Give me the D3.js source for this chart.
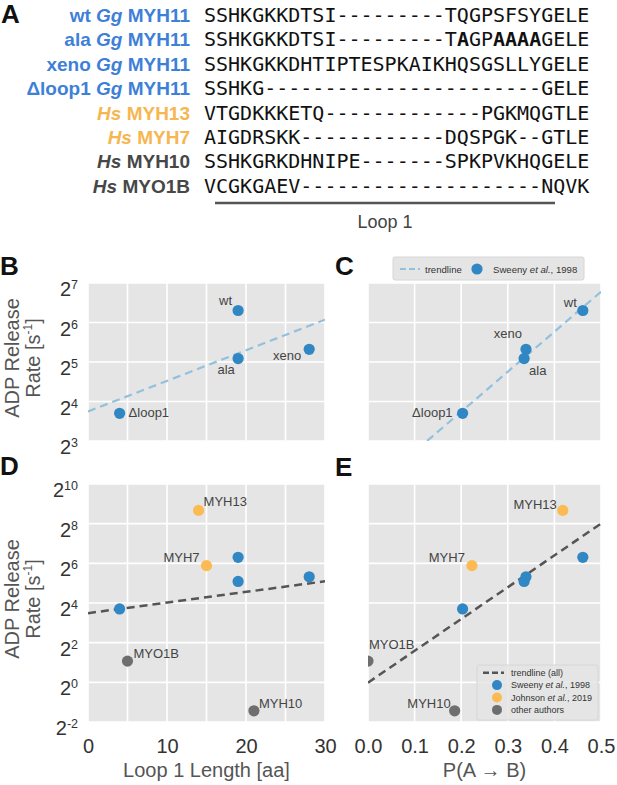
<!DOCTYPE html>
<html>
<head>
<meta charset="utf-8">
<script src="https://cdn.jsdelivr.net/npm/d3@7"></script>
<style>
    body { margin: 0; background: #fff; }
    text { font-family: "Liberation Sans", Arial, sans-serif; }
    .seq { font-family: "DejaVu Sans Mono", monospace; }
</style>
</head>
<body>
<svg id="fig"></svg>
<script>
// ---------- data ----------
const alignNames = ['wt', 'ala', 'xeno', 'Δloop1', '', '', '', '']
const alignSpecies = ['Gg', 'Gg', 'Gg', 'Gg', 'Hs', 'Hs', 'Hs', 'Hs']
const alignGenes = ['MYH11', 'MYH11', 'MYH11', 'MYH11', 'MYH13', 'MYH7', 'MYH10', 'MYO1B']
const alignGroups = ['sweeny', 'sweeny', 'sweeny', 'sweeny', 'johnson', 'johnson', 'other', 'other']
const alignSeqs = [
    'SSHKGKKDTSI---------TQGPSFSYGELE',
    'SSHKGKKDTSI---------TAGPAAAAGELE',
    'SSHKGKKDHTIPTESPKAIKHQSGSLLYGELE',
    'SSHKG-----------------------GELE',
    'VTGDKKKETQ-------------PGKMQGTLE',
    'AIGDRSKK------------DQSPGK--GTLE',
    'SSHKGRKDHNIPE-------SPKPVKHQGELE',
    'VCGKGAEV--------------------NQVK',
]
const alaBoldIdx = [21, 24, 25, 26, 27]

const sweenyNames = ['wt', 'ala', 'xeno', 'Δloop1']
const sweenyLoopLen = [19, 19, 28, 4]
const sweenyPAB = [0.461, 0.335, 0.339, 0.203]
const sweenyRate = [79, 34, 40, 13]

const johnsonNames = ['MYH13', 'MYH7']
const johnsonLoopLen = [14, 15]
const johnsonPAB = [0.418, 0.223]
const johnsonRate = [407, 59]

const otherNames = ['MYO1B', 'MYH10']
const otherLoopLen = [5, 21]
const otherPAB = [0.0, 0.186]
const otherRate = [2.1, 0.37]

const lenTicks = [0, 10, 20, 30]
const pabTicks = [0.0, 0.1, 0.2, 0.3, 0.4, 0.5]
const expTicksTop = [3, 4, 5, 6, 7]
const expTicksBottom = [-2, 0, 2, 4, 6, 8, 10]

// ---------- style ----------
const col = { sweeny: '#3087c4', johnson: '#fbbb52', other: '#6e6e6e' }
const textCol = { sweeny: '#3e7fd8', johnson: '#f6b650', other: '#474747' }
const bgCol = '#e5e5e5'

const W = 617, H = 785
const svg = d3.select('#fig').attr('width', W).attr('height', H)

const panelLetter = (t, x, y) => svg.append('text')
    .attr('x', x).attr('y', y)
    .attr('font-size', 26).attr('font-weight', 'bold').attr('fill', '#111')
    .text(t)

// ---------- panel A ----------
panelLetter('A', 1, 23)
const rowY = d3.scaleLinear().domain([0, 1]).range([22, 46.4])

const rows = svg.append('g')
alignGenes.forEach((gene, i) => {
    const lab = rows.append('text')
        .attr('x', 190).attr('y', rowY(i))
        .attr('text-anchor', 'end')
        .attr('font-size', 19).attr('font-weight', 'bold')
        .attr('fill', textCol[alignGroups[i]])
    if (alignNames[i]) lab.append('tspan').text(alignNames[i] + ' ')
    lab.append('tspan').attr('font-style', 'italic').text(alignSpecies[i])
    lab.append('tspan').text(' ' + gene)

    const seq = rows.append('text')
        .attr('class', 'seq')
        .attr('x', 204).attr('y', rowY(i))
        .attr('font-size', 20).attr('fill', '#111')
    const bold = i === 1 ? alaBoldIdx : []
    // split into runs of bold / normal
    let runs = []
    alignSeqs[i].split('').forEach((c, k) => {
        const b = bold.includes(k)
        if (runs.length && runs[runs.length - 1].b === b) runs[runs.length - 1].t += c
        else runs.push({ t: c, b })
    })
    seq.selectAll('tspan').data(runs).join('tspan')
        .attr('font-weight', d => d.b ? 'bold' : 'normal')
        .text(d => d.t)
})

svg.append('line')
    .attr('x1', 215).attr('x2', 555).attr('y1', 203).attr('y2', 203)
    .attr('stroke', '#555').attr('stroke-width', 2.5)
svg.append('text')
    .attr('x', 385).attr('y', 228).attr('text-anchor', 'middle')
    .attr('font-size', 18).attr('fill', '#444')
    .text('Loop 1')

// ---------- scatter panels ----------
function fit(xs, ys) {
    const mx = d3.mean(xs), my = d3.mean(ys)
    const sxy = d3.sum(xs, (v, i) => (v - mx) * (ys[i] - my))
    const sxx = d3.sum(xs, v => (v - mx) * (v - mx))
    const slope = sxy / sxx
    return { slope, intercept: my - slope * mx }
}

let clipId = 0
function scatterPanel(p) {
    const g = svg.append('g')
    const x = d3.scaleLinear().domain(p.xDomain).range([p.left, p.right])
    const y = d3.scaleLog().base(2)
        .domain([2 ** p.expTicks[0], 2 ** p.expTicks[p.expTicks.length - 1]])
        .range([p.bottom, p.top])

    g.append('rect')
        .attr('x', p.left).attr('y', p.top)
        .attr('width', p.right - p.left).attr('height', p.bottom - p.top)
        .attr('fill', bgCol)

    g.append('g').selectAll('line').data(p.xGrid).join('line')
        .attr('x1', d => x(d)).attr('x2', d => x(d))
        .attr('y1', p.top).attr('y2', p.bottom)
        .attr('stroke', '#fff').attr('stroke-width', 1.6)
    g.append('g').selectAll('line').data(p.expTicks).join('line')
        .attr('x1', p.left).attr('x2', p.right)
        .attr('y1', d => y(2 ** d)).attr('y2', d => y(2 ** d))
        .attr('stroke', '#fff').attr('stroke-width', 1.6)

    const id = 'clip' + (clipId++)
    g.append('clipPath').attr('id', id).append('rect')
        .attr('x', p.left).attr('y', p.top)
        .attr('width', p.right - p.left).attr('height', p.bottom - p.top)
    const inner = g.append('g').attr('clip-path', `url(#${id})`)

    // trendline: least squares in log2 space over every series shown
    const tx = [].concat(...p.series.map(s => s.xs))
    const ty = [].concat(...p.series.map(s => s.rates.map(Math.log2)))
    const f = fit(tx, ty)
    inner.append('path')
        .attr('d', d3.line()
            .x(d => x(d))
            .y(d => y(2 ** (f.intercept + f.slope * d)))(p.xDomain))
        .attr('fill', 'none')
        .attr('stroke', p.trendColor).attr('stroke-width', p.trendWidth)
        .attr('stroke-dasharray', p.trendDash)

    p.series.forEach(s => {
        const pts = s.xs.map((v, i) => ({ x: v, r: s.rates[i], name: s.names[i] }))
        inner.append('g').selectAll('circle').data(pts).join('circle')
            .attr('cx', d => x(d.x)).attr('cy', d => y(d.r))
            .attr('r', 5.6)
            .attr('fill', col[s.group])
        g.append('g').selectAll('text').data(pts.filter(d => p.labelPos[d.name])).join('text')
            .attr('x', d => x(d.x) + p.labelPos[d.name][0])
            .attr('y', d => y(d.r) + p.labelPos[d.name][1])
            .attr('text-anchor', d => p.labelPos[d.name][2])
            .attr('font-size', 13).attr('fill', '#444')
            .text(d => d.name)
    })

    if (p.yLabels) {
        const yl = g.append('g').selectAll('text').data(p.expTicks).join('text')
            .attr('x', p.left - 10)
            .attr('y', d => y(2 ** d) + 13)
            .attr('text-anchor', 'end').attr('fill', '#333')
        yl.append('tspan')
            .attr('font-size', 20)
            .text('2')
        yl.append('tspan')
            .attr('dy', -7)
            .attr('font-size', 12.5)
            .text(d => d < 0 ? '-' + Math.abs(d) : d)

        const ylab = g.append('text')
            .attr('transform', `translate(0, ${(p.top + p.bottom) / 2 - 4}) rotate(-90)`)
            .attr('text-anchor', 'middle').attr('font-size', 20).attr('fill', '#555')
        ylab.append('tspan').attr('x', 0).attr('y', 19).text('ADP Release')
        const l2 = ylab.append('tspan').attr('x', 0).attr('y', 40)
        l2.append('tspan').text('Rate [s')
        l2.append('tspan').attr('font-size', 12).attr('dy', -8).text('-1')
        l2.append('tspan').attr('dy', 8).text(']')
    }

    if (p.xTicks) {
        g.append('g')
            .attr('transform', `translate(0, ${p.bottom})`)
            .call(d3.axisBottom(x).tickValues(p.xTicks).tickFormat(p.xFormat).tickSize(0).tickPadding(0))
            .call(a => a.select('.domain').remove())
            .selectAll('text')
            .attr('dy', null).attr('y', 31)
            .attr('font-size', 20).attr('fill', '#333')
            .attr('font-family', '"Liberation Sans", Arial, sans-serif')
        g.append('text')
            .attr('x', (p.left + p.right) / 2).attr('y', 777)
            .attr('text-anchor', 'middle').attr('font-size', 20).attr('fill', '#555')
            .text(p.xLabel)
    }
    return { x, y }
}

const sweenyLen = { names: sweenyNames, xs: sweenyLoopLen, rates: sweenyRate, group: 'sweeny' }
const sweenyP = { names: sweenyNames, xs: sweenyPAB, rates: sweenyRate, group: 'sweeny' }
const johnsonLen = { names: johnsonNames, xs: johnsonLoopLen, rates: johnsonRate, group: 'johnson' }
const johnsonP = { names: johnsonNames, xs: johnsonPAB, rates: johnsonRate, group: 'johnson' }
const otherLen = { names: otherNames, xs: otherLoopLen, rates: otherRate, group: 'other' }
const otherP = { names: otherNames, xs: otherPAB, rates: otherRate, group: 'other' }

const leftCol = { left: 88, right: 325, xDomain: [0, 30], xGrid: d3.range(0, 31, 5) }
const rightCol = { left: 368, right: 601, xDomain: [0, 0.5], xGrid: pabTicks }
const topRow = { top: 283, bottom: 441, expTicks: expTicksTop, trendColor: '#93c0dd', trendWidth: 2.2, trendDash: '8,5' }
const botRow = { top: 484, bottom: 722, expTicks: expTicksBottom, trendColor: '#555', trendWidth: 2.5, trendDash: '8,5' }

// B
panelLetter('B', 0, 275)
scatterPanel({
    ...leftCol, ...topRow, yLabels: true,
    series: [sweenyLen],
    labelPos: {
        'wt': [-6, -6, 'end'], 'ala': [-12, 15, 'middle'],
        'xeno': [-8, 11, 'end'], 'Δloop1': [9, 4, 'start']
    }
})

// C
panelLetter('C', 335, 275)
scatterPanel({
    ...rightCol, ...topRow,
    series: [sweenyP],
    labelPos: {
        'wt': [-6, -4, 'end'], 'ala': [5, 16, 'start'],
        'xeno': [-4, -11, 'end'], 'Δloop1': [-10, 4, 'end']
    }
})
const legC = svg.append('g')
legC.append('rect').attr('x', 393).attr('y', 257).attr('width', 191).attr('height', 23)
    .attr('fill', bgCol).attr('stroke', '#d6d6d6').attr('rx', 2)
legC.append('line').attr('x1', 400).attr('x2', 420).attr('y1', 269).attr('y2', 269)
    .attr('stroke', '#93c0dd').attr('stroke-width', 2.2).attr('stroke-dasharray', '6,3')
legC.append('text').attr('x', 425).attr('y', 272.5).attr('font-size', 9.6).attr('fill', '#333').text('trendline')
legC.append('circle').attr('cx', 477).attr('cy', 269).attr('r', 5.6).attr('fill', col.sweeny)
const lcT = legC.append('text').attr('x', 493).attr('y', 272.5).attr('font-size', 9.6).attr('fill', '#333')
lcT.append('tspan').text('Sweeny ')
lcT.append('tspan').attr('font-style', 'italic').text('et al.')
lcT.append('tspan').text(', 1998')

// D
panelLetter('D', 0, 475)
scatterPanel({
    ...leftCol, ...botRow, yLabels: true,
    xTicks: lenTicks, xFormat: d3.format('d'), xLabel: 'Loop 1 Length [aa]',
    series: [sweenyLen, johnsonLen, otherLen],
    labelPos: {
        'MYH13': [5, -4, 'start'], 'MYH7': [-7, -4, 'end'],
        'MYO1B': [6, -3, 'start'], 'MYH10': [5, -3, 'start']
    }
})

// E
panelLetter('E', 335, 476)
scatterPanel({
    ...rightCol, ...botRow,
    xTicks: pabTicks, xFormat: d3.format('.1f'), xLabel: 'P(A → B)',
    series: [sweenyP, johnsonP, otherP],
    labelPos: {
        'MYH13': [-6, -1, 'end'], 'MYH7': [-7, -4, 'end'],
        'MYO1B': [1, -12, 'start'], 'MYH10': [-4, -3, 'end']
    }
})

const legE = svg.append('g')
legE.append('rect').attr('x', 477).attr('y', 665).attr('width', 121).attr('height', 55)
    .attr('fill', bgCol).attr('fill-opacity', 0.85).attr('stroke', '#d6d6d6').attr('rx', 2)
const legItems = [
    { kind: 'line', parts: [['trendline (all)', false]] },
    { kind: 'sweeny', parts: [['Sweeny ', false], ['et al.', true], [', 1998', false]] },
    { kind: 'johnson', parts: [['Johnson ', false], ['et al.', true], [', 2019', false]] },
    { kind: 'other', parts: [['other authors', false]] },
]
legItems.forEach((it, i) => {
    const cy = 672.7 + i * 12.4
    if (it.kind === 'line') {
        legE.append('line').attr('x1', 483).attr('x2', 504).attr('y1', cy).attr('y2', cy)
            .attr('stroke', '#555').attr('stroke-width', 2.4).attr('stroke-dasharray', '6,3')
    } else {
        legE.append('circle').attr('cx', 497).attr('cy', cy).attr('r', 5).attr('fill', col[it.kind])
    }
    const t = legE.append('text').attr('x', 511).attr('y', cy + 3.2).attr('font-size', 9).attr('fill', '#333')
    t.selectAll('tspan').data(it.parts).join('tspan')
        .attr('font-style', d => d[1] ? 'italic' : 'normal')
        .text(d => d[0])
})
</script>
</body>
</html>
